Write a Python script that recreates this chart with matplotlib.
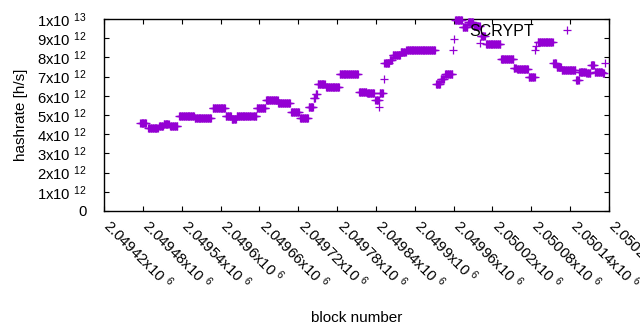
import numpy as np
import matplotlib
matplotlib.use("Agg")
import matplotlib.pyplot as plt
from matplotlib.transforms import ScaledTranslation

plt.rcParams["font.family"] = ["Liberation Sans", "DejaVu Sans"]
plt.rcParams["mathtext.fontset"] = "custom"
plt.rcParams["mathtext.rm"] = "Liberation Sans"
plt.rcParams["mathtext.it"] = "Liberation Sans"

# runs of blocks with the same hashrate estimate: first block, last block, hashrate (x1e12 h/s)
run_first = [2049476, 2049488, 2049505, 2049512, 2049522, 2049536, 2049560, 2049588,
             2049608, 2049617, 2049625, 2049649, 2049656, 2049670, 2049689, 2049709,
             2049723, 2049736, 2049744, 2049747, 2049750, 2049763, 2049784, 2049814,
             2049826, 2049839, 2049845, 2049846, 2049852, 2049853, 2049861, 2049866,
             2049878, 2049887, 2049933, 2049940, 2049947, 2049959, 2049960, 2049962,
             2049974, 2049982, 2049991, 2050001, 2050002, 2050010, 2050033, 2050053,
             2050058, 2050076, 2050086, 2050087, 2050090, 2050114, 2050119, 2050127,
             2050149, 2050154, 2050165, 2050172, 2050178, 2050190, 2050194]
run_last = [2049485, 2049503, 2049511, 2049520, 2049533, 2049559, 2049585, 2049607,
            2049616, 2049624, 2049647, 2049655, 2049669, 2049688, 2049707, 2049721,
            2049735, 2049743, 2049746, 2049749, 2049761, 2049783, 2049812, 2049825,
            2049837, 2049844, 2049845, 2049851, 2049852, 2049860, 2049865, 2049877,
            2049886, 2049931, 2049939, 2049945, 2049958, 2049959, 2049960, 2049973,
            2049981, 2049990, 2050000, 2050001, 2050008, 2050032, 2050052, 2050056,
            2050075, 2050085, 2050086, 2050087, 2050113, 2050118, 2050126, 2050148,
            2050153, 2050164, 2050171, 2050177, 2050189, 2050192, 2050194]
run_rate = [4.57, 4.30, 4.44, 4.52, 4.44, 4.93, 4.86, 5.34,
            4.93, 4.79, 4.96, 4.95, 5.39, 5.77, 5.61, 5.14,
            4.85, 5.42, 5.90, 6.10, 6.62, 6.44, 7.14, 6.18,
            6.13, 5.78, 5.42, 6.17, 6.87, 7.70, 7.86, 8.10,
            8.28, 8.36, 6.59, 6.87, 7.14, 8.39, 8.96, 9.95,
            9.56, 9.84, 9.66, 8.75, 9.10, 8.70, 7.90, 7.47,
            7.37, 6.98, 8.40, 8.60, 8.78, 7.73, 7.50, 7.34,
            6.82, 7.25, 7.19, 7.60, 7.24, 7.19, 7.70]

x_ticks = np.arange(2049420, 2050201, 60)
y_ticks = np.arange(0, 11) * 1e12
y_labels = ["0"] + ["%dx10 $^{12}$" % i for i in range(1, 10)] + ["1x10 $^{13}$"]

# one point per block
blocks = np.concatenate([np.arange(a, b + 1) for a, b in zip(run_first, run_last)])
rates = np.concatenate([np.full(b - a + 1, r * 1e12) for a, b, r in zip(run_first, run_last, run_rate)])

fig = plt.figure(figsize=(6.4, 3.3), dpi=100)
ax = fig.add_axes([104 / 640, 1 - 211 / 330, 505 / 640, 192 / 330])

ax.plot(blocks, rates, linestyle="none", marker="+", markersize=5.2, mew=0.9,
        color="#9400D3", label="SCRYPT", clip_on=False, zorder=3)

ax.set_xlim(2049420, 2050200)
ax.set_ylim(0, 1e13)
ax.set_xticks(x_ticks)
ax.set_xticklabels(["%gx10 $^{6}$" % (t / 1e6) for t in x_ticks],
                   rotation=-45, ha="left", va="center", rotation_mode="anchor")
ax.set_yticks(y_ticks)
ax.set_yticklabels(y_labels)
ax.tick_params(direction="in", length=3.5, width=0.8, top=True, right=True,
               labelsize=10.7, colors="black")
ax.tick_params(axis="x", pad=8)
ax.tick_params(axis="y", pad=12.5)
shift = ScaledTranslation(3 / 100, 0, fig.dpi_scale_trans)
for lab in ax.get_xticklabels():
    lab.set_transform(lab.get_transform() + shift)
for s in ax.spines.values():
    s.set_linewidth(1.0)

ax.set_xlabel("block number", fontsize=11)
ax.set_ylabel("hashrate [h/s]", fontsize=11)
ax.xaxis.set_label_coords(0.5, -0.52)
ax.yaxis.set_label_coords(-0.15, 0.5)

ax.legend(loc="center right", bbox_to_anchor=(575 / 640, 1 - 31.5 / 330),
          bbox_transform=fig.transFigure, markerfirst=False, frameon=False,
          handlelength=1.0, handletextpad=1.6, borderpad=0, borderaxespad=0,
          fontsize=11.5)

fig.savefig("out.png", dpi=100)
